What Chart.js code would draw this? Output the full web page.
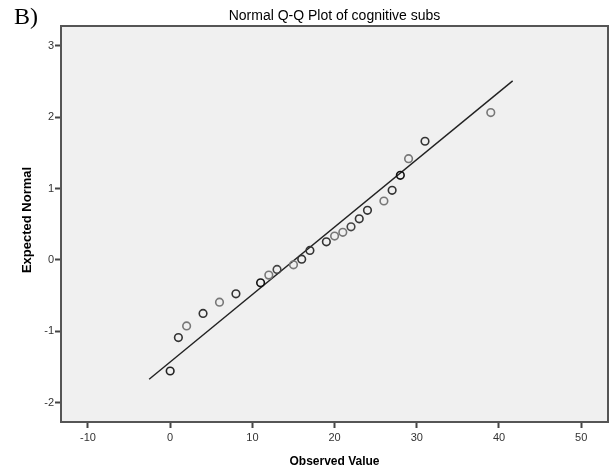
<!DOCTYPE html>
<html>
<head>
<meta charset="utf-8">
<script src="https://cdn.jsdelivr.net/npm/chart.js@4"></script>
<style>
  html, body { margin: 0; padding: 0; background: #ffffff; }
  #wrap { width: 616px; height: 472px; position: relative; }
</style>
</head>
<body>
<div id="wrap"><canvas id="chartQQ" width="616" height="472"></canvas></div>
<script>
/* valores observados y normales esperados */
const observado = [0, 1, 2, 4, 6, 8, 11, 12, 13, 15, 16, 17, 19, 20, 21, 22, 23, 24, 26, 27, 28, 29, 31, 39];
const esperado = [-1.556, -1.087, -0.924, -0.749, -0.592, -0.475, -0.321, -0.213, -0.133, -0.069, 0.011, 0.133,
  0.254, 0.334, 0.386, 0.464, 0.576, 0.694, 0.825, 0.975, 1.185, 1.418, 1.662, 2.063];
// extremos de la recta de referencia
const rectaX = [-2.56, 41.66];
const rectaY = [-1.672, 2.508];
const ticksX = [-10, 0, 10, 20, 30, 40, 50];
const ticksY = [-2, -1, 0, 1, 2, 3];

// tonos de los circulos (los mas oscuros se ven marcados dos veces)
const tonos = ["#222", "#333", "#777", "#333", "#777", "#333", "#111", "#777", "#444", "#777", "#333", "#333",
  "#333", "#777", "#777", "#444", "#333", "#333", "#777", "#333", "#111", "#777", "#333", "#777"];

const canvas = document.getElementById("chartQQ");
const context = canvas.getContext("2d");

/* fondo gris del area y marco superior/derecho */
const marcoPlugin = {
  id: "marco",
  beforeDraw(chart) {
    const { ctx, chartArea: a } = chart;
    ctx.save();
    ctx.fillStyle = "#f0f0f0";
    ctx.fillRect(a.left, a.top, a.right - a.left, a.bottom - a.top);
    ctx.restore();
  },
  afterDraw(chart) {
    const { ctx, chartArea: a } = chart;
    ctx.save();
    ctx.strokeStyle = "#555";
    ctx.lineWidth = 2;
    ctx.beginPath();
    ctx.moveTo(a.left, a.top);
    ctx.lineTo(a.right, a.top);
    ctx.lineTo(a.right, a.bottom);
    ctx.stroke();

    // textos
    ctx.fillStyle = "#000";
    ctx.font = "24px 'Liberation Serif'";
    ctx.textAlign = "left";
    ctx.textBaseline = "alphabetic";
    ctx.fillText("B)", 14, 24);

    ctx.font = "14px 'Liberation Sans'";
    ctx.textAlign = "center";
    ctx.fillText("Normal Q-Q Plot of cognitive subs", (a.left + a.right) / 2, 20);

    ctx.font = "bold 12px 'Liberation Sans'";
    ctx.textBaseline = "middle";
    ctx.fillText("Observed Value", (a.left + a.right) / 2, 462);

    ctx.font = "bold 13px 'Liberation Sans'";
    ctx.translate(27, 220);
    ctx.rotate(-Math.PI / 2);
    ctx.fillText("Expected Normal", 0, 0);
    ctx.restore();
  },
};

const chartQQ = new Chart(context, {
  type: "scatter",
  data: {
    datasets: [
      {
        label: "cognitive subs",
        data: observado.map((x, i) => ({ x: x, y: esperado[i] })),
        pointRadius: 3.8,
        pointHoverRadius: 3.8,
        pointBorderWidth: 1.6,
        pointBackgroundColor: "rgba(0,0,0,0)",
        pointBorderColor: tonos,
      },
      {
        type: "line",
        label: "recta",
        data: rectaX.map((x, i) => ({ x: x, y: rectaY[i] })),
        borderColor: "#222",
        borderWidth: 1.4,
        pointRadius: 0,
        fill: false,
      },
    ],
  },
  options: {
    responsive: false,
    animation: false,
    events: [],
    layout: { padding: { top: 26, left: 0, right: 8, bottom: 0 } },
    plugins: {
      legend: { display: false },
      tooltip: { enabled: false },
    },
    scales: {
      x: {
        type: "linear",
        min: -13.28,
        max: 53.26,
        afterBuildTicks: (scale) => {
          scale.ticks = ticksX.map((v) => ({ value: v }));
        },
        afterFit: (scale) => {
          scale.height = 50;
        },
        grid: { drawOnChartArea: false, drawTicks: true, tickLength: 6, tickWidth: 2, color: "#444" },
        border: { display: true, color: "#555", width: 2 },
        ticks: {
          padding: 3,
          color: "#333",
          font: { family: "'Liberation Sans'", size: 11 },
          maxRotation: 0,
        },
      },
      y: {
        type: "linear",
        min: -2.27,
        max: 3.276,
        afterBuildTicks: (scale) => {
          scale.ticks = ticksY.map((v) => ({ value: v }));
        },
        afterFit: (scale) => {
          scale.width = 61;
        },
        grid: { drawOnChartArea: false, drawTicks: true, tickLength: 6, tickWidth: 2, color: "#444" },
        border: { display: true, color: "#555", width: 2 },
        ticks: {
          padding: 1,
          color: "#333",
          font: { family: "'Liberation Sans'", size: 11 },
        },
      },
    },
  },
  plugins: [marcoPlugin],
});
</script>
</body>
</html>
